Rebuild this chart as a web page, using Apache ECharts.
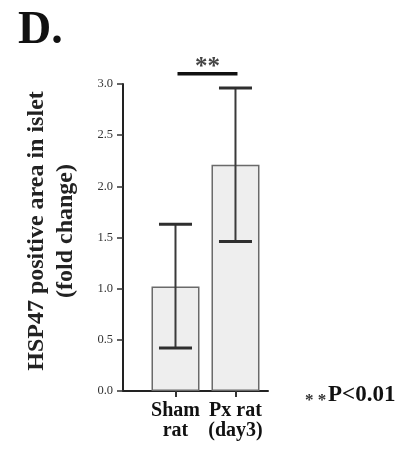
<!DOCTYPE html>
<html>
<head>
<meta charset="utf-8">
<script src="https://cdn.jsdelivr.net/npm/echarts@6/dist/echarts.min.js"></script>
<style>
  html, body { margin: 0; padding: 0; background: #ffffff; }
  #chart { width: 419px; height: 453px; }
</style>
</head>
<body>
<div id="chart"></div>
<script>
// Group labels, mean fold change and error range (mean ± SD)
const categories = ['Sham\nrat', 'Px rat\n(day3)'];
const means = [1.02, 2.21];
const errLow = [0.42, 1.46];
const errHigh = [1.63, 2.96];
const yTicks = ['0.0', '0.5', '1.0', '1.5', '2.0', '2.5', '3.0'];
// Significance bracket between the two groups
const sigPair = [1, 2];
const sigLevel = 3.1;
const sigMark = '**';

const SERIF = '"Liberation Serif", "DejaVu Serif", serif';
const positions = categories.map((c, i) => i + 1);

const chart = echarts.init(document.getElementById('chart'), null, { renderer: 'canvas' });

chart.setOption({
  animation: false,
  backgroundColor: '#ffffff',
  grid: { left: 123, right: 151, top: 84, bottom: 62 },
  xAxis: {
    type: 'value',
    min: 0.125,
    max: 2.542,
    splitLine: { show: false },
    axisLine: { show: true, lineStyle: { color: '#222', width: 2 } },
    axisTick: { show: true, customValues: positions, length: 6, lineStyle: { color: '#333', width: 2 } },
    axisLabel: {
      customValues: positions,
      formatter: v => categories[Math.round(v) - 1] || '',
      fontFamily: SERIF,
      fontWeight: 'bold',
      fontSize: 20,
      lineHeight: 20,
      color: '#111',
      margin: 10
    }
  },
  yAxis: {
    type: 'value',
    min: 0,
    max: 3,
    interval: 0.5,
    splitLine: { show: false },
    axisLine: { show: true, lineStyle: { color: '#222', width: 2 } },
    axisTick: { show: true, length: 6, lineStyle: { color: '#333', width: 1.5 } },
    axisLabel: {
      formatter: v => yTicks[Math.round(v / 0.5)],
      fontFamily: SERIF,
      fontSize: 12.5,
      color: '#333',
      margin: 10
    }
  },
  series: [
    {
      type: 'bar',
      barWidth: 48,
      data: positions.map((x, i) => [x, means[i]]),
      itemStyle: { color: '#eeeeee', borderColor: '#6a6a6a', borderWidth: 1.5 },
      z: 2
    },
    {
      type: 'custom',
      z: 5,
      data: positions.map((x, i) => [x, errLow[i], errHigh[i]]),
      renderItem: function (params, api) {
        const x = api.value(0);
        const lo = api.coord([x, api.value(1)]);
        const hi = api.coord([x, api.value(2)]);
        const half = 16.5;
        const style = { stroke: '#3a3a3a', lineWidth: 2 };
        const capStyle = { stroke: '#2e2e2e', lineWidth: 3 };
        return {
          type: 'group',
          children: [
            { type: 'line', shape: { x1: lo[0], y1: lo[1], x2: hi[0], y2: hi[1] }, style: style },
            { type: 'line', shape: { x1: hi[0] - half, y1: hi[1], x2: hi[0] + half, y2: hi[1] }, style: capStyle },
            { type: 'line', shape: { x1: lo[0] - half, y1: lo[1], x2: lo[0] + half, y2: lo[1] }, style: capStyle }
          ]
        };
      }
    },
    {
      type: 'custom',
      z: 6,
      clip: false,
      data: [[sigPair[0], sigPair[1], sigLevel]],
      renderItem: function (params, api) {
        const a = api.coord([api.value(0), api.value(2)]);
        const b = api.coord([api.value(1), api.value(2)]);
        return {
          type: 'group',
          children: [
            { type: 'line', shape: { x1: a[0] + 2, y1: a[1], x2: b[0] + 2, y2: b[1] },
              style: { stroke: '#111', lineWidth: 3.5 } },
            { type: 'text', x: (a[0] + b[0]) / 2 + 2, y: a[1] + 6,
              style: { text: sigMark, fontFamily: SERIF, fontWeight: 'bold', fontSize: 25, fill: '#444',
                       textAlign: 'center', textVerticalAlign: 'bottom' } }
          ]
        };
      }
    }
  ],
  graphic: [
    {
      type: 'text', left: 18, top: 8,
      style: { text: 'D.', fontFamily: SERIF, fontWeight: 'bold', fontSize: 46, fill: '#111' }
    },
    {
      type: 'text', x: 51, y: 231, rotation: Math.PI / 2,
      style: {
        text: 'HSP47 positive area in islet\n(fold change)',
        fontFamily: SERIF, fontWeight: 'bold', fontSize: 24, lineHeight: 29,
        fill: '#222', textAlign: 'center', textVerticalAlign: 'middle'
      }
    },
    {
      type: 'text', x: 305, y: 409,
      style: { text: '* *', fontFamily: SERIF, fontWeight: 'bold', fontSize: 17, fill: '#333',
               textVerticalAlign: 'bottom' }
    },
    {
      type: 'text', x: 328, y: 395,
      style: { text: 'P<0.01', fontFamily: SERIF, fontWeight: 'bold', fontSize: 23, fill: '#111',
               textVerticalAlign: 'middle' }
    }
  ]
});
</script>
</body>
</html>
